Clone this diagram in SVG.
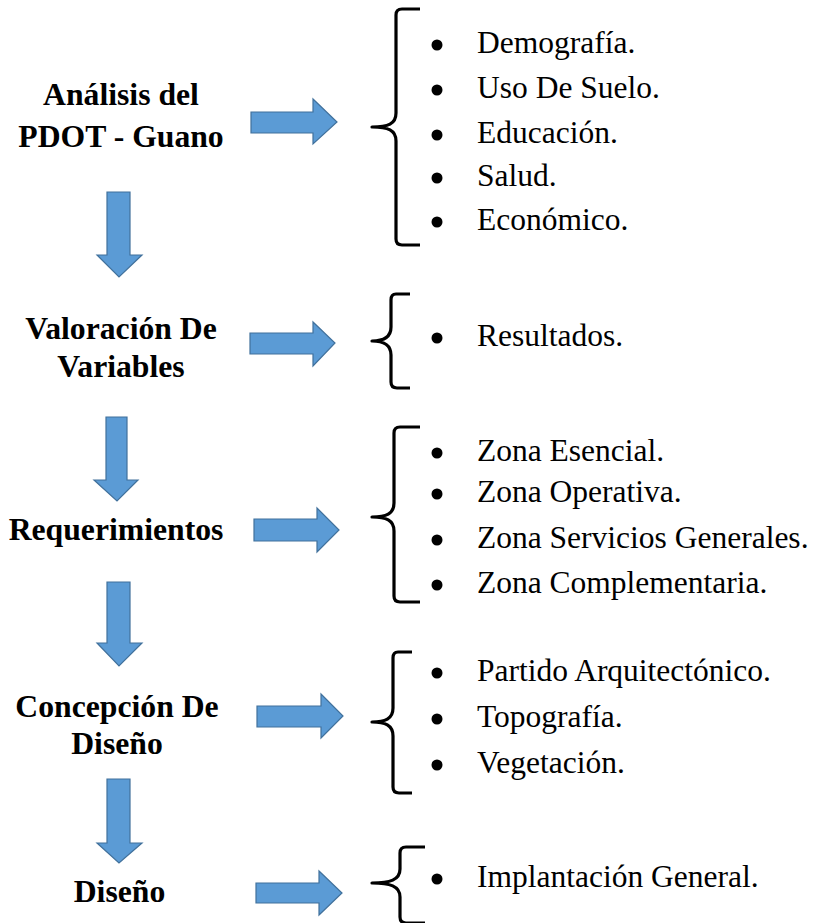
<svg xmlns="http://www.w3.org/2000/svg" width="817" height="923" viewBox="0 0 817 923">
<style>
.t{font-weight:bold;font-size:31.7px;fill:#000;text-anchor:middle}
.i{font-size:31.5px;fill:#000}
.b{fill:none;stroke:#000;stroke-width:3.2;stroke-linecap:butt;stroke-linejoin:round}
.a{fill:#5B9BD5;stroke:#41719C;stroke-width:1.2}
.d{fill:#000}
</style>
<rect width="817" height="923" fill="#fff"/>
<g font-family="'Liberation Serif', 'Times New Roman', 'DejaVu Serif', serif">
<g id="n1">
<text class="t" x="121" y="105">Análisis del</text>
<text class="t" x="121" y="147">PDOT - Guano</text>
</g>
<g id="n2">
<text class="t" x="121" y="339">Valoración De</text>
<text class="t" x="121" y="377">Variables</text>
</g>
<g id="n3">
<text class="t" x="116" y="540">Requerimientos</text>
</g>
<g id="n4">
<text class="t" x="117" y="717">Concepción De</text>
<text class="t" x="117" y="754">Diseño</text>
</g>
<g id="n5">
<text class="t" x="119.5" y="902">Diseño</text>
</g>
<g id="l1">
<path class="b" d="M420,9 L402,9 Q396,9 396,15 L396,113 C396,124 388,127 372,127 C388,127 396,130 396,141 L396,239 Q396,245 402,245 L420,245"/>
<circle class="d" cx="437" cy="45" r="5.5"/><text class="i" x="477" y="53">Demografía.</text>
<circle class="d" cx="437" cy="90" r="5.5"/><text class="i" x="477" y="98">Uso De Suelo.</text>
<circle class="d" cx="437" cy="135" r="5.5"/><text class="i" x="477" y="143">Educación.</text>
<circle class="d" cx="437" cy="178" r="5.5"/><text class="i" x="477" y="186">Salud.</text>
<circle class="d" cx="437" cy="222" r="5.5"/><text class="i" x="477" y="230">Económico.</text>
</g>
<g id="l2">
<path class="b" d="M410,294 L396,294 Q391,294 391,300 L391,327 C391,338 383,341 372,341 C383,341 391,344 391,355 L391,382 Q391,388 397,388 L410,388"/>
<circle class="d" cx="437" cy="338" r="5.5"/><text class="i" x="477" y="346">Resultados.</text>
</g>
<g id="l3">
<path class="b" d="M420,427 L400,427 Q394,427 394,433 L394,503 C394,514 386,517 372,517 C386,517 394,520 394,531 L394,596 Q394,602 400,602 L420,602"/>
<circle class="d" cx="437" cy="453" r="5.5"/><text class="i" x="477" y="461">Zona Esencial.</text>
<circle class="d" cx="437" cy="494" r="5.5"/><text class="i" x="477" y="502">Zona Operativa.</text>
<circle class="d" cx="437" cy="540" r="5.5"/><text class="i" x="477" y="548">Zona Servicios Generales.</text>
<circle class="d" cx="437" cy="585" r="5.5"/><text class="i" x="477" y="593">Zona Complementaria.</text>
</g>
<g id="l4">
<path class="b" d="M412,652 L398,652 Q393,652 393,658 L393,708 C393,719 385,722 372,722 C385,722 393,725 393,736 L393,787 Q393,793 399,793 L412,793"/>
<circle class="d" cx="437" cy="673" r="5.5"/><text class="i" x="477" y="681">Partido Arquitectónico.</text>
<circle class="d" cx="437" cy="719" r="5.5"/><text class="i" x="477" y="727">Topografía.</text>
<circle class="d" cx="437" cy="765" r="5.5"/><text class="i" x="477" y="773">Vegetación.</text>
</g>
<g id="l5">
<path class="b" d="M425,847 L406,847 Q400,847 400,853 L400,869 C400,880 390,883 372,883 C390,883 400,886 400,897 L400,917 Q400,923 406,923 L425,923"/>
<circle class="d" cx="437" cy="879" r="5.5"/><text class="i" x="477" y="887">Implantación General.</text>
</g>
</g>
<g id="connectors">
<path class="a" d="M251,112 L313,112 L313,99 L337,122 L313,144 L313,133 L251,133 Z"/>
<path class="a" d="M250,333 L313,333 L313,322 L335,343 L313,366 L313,354 L250,354 Z"/>
<path class="a" d="M254,519 L317,519 L317,508 L339,530 L317,552 L317,541 L254,541 Z"/>
<path class="a" d="M257,706 L321,706 L321,694 L343,716 L321,738 L321,727 L257,727 Z"/>
<path class="a" d="M256,883 L319,883 L319,871 L342,893 L319,915 L319,903 L256,903 Z"/>
<path class="a" d="M107,192 L130,192 L130,255 L142,255 L119,277 L97,255 L107,255 Z"/>
<path class="a" d="M106,417 L127,417 L127,480 L138,480 L117,501 L94,480 L106,480 Z"/>
<path class="a" d="M107,582 L130,582 L130,643 L142,643 L119,666 L97,643 L107,643 Z"/>
<path class="a" d="M107,779 L130,779 L130,843 L142,843 L119,863 L97,843 L107,843 Z"/>
</g>
</svg>
